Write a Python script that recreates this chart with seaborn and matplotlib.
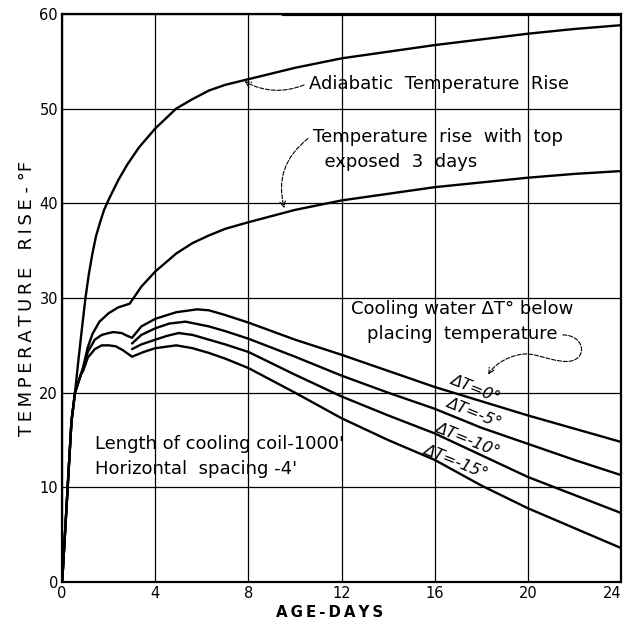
import numpy as np
import pandas as pd
import seaborn as sns
import matplotlib
matplotlib.use("Agg")
import matplotlib.pyplot as plt
from matplotlib.path import Path
from matplotlib.patches import FancyArrowPatch

# Curves (age in days, temperature rise in deg F)
days_adiabatic = [0, 0.2, 0.4, 0.55, 0.7, 0.85, 1.0, 1.15, 1.3, 1.45, 1.63, 1.8, 2.0, 2.4, 2.8, 3.3, 4.0, 4.9, 5.6, 6.3, 7, 8, 10, 12, 14, 16, 18, 20, 22, 24]
rise_adiabatic = [0, 8.5, 17, 20, 23.5, 26.8, 30, 32.6, 34.7, 36.5, 38.0, 39.3, 40.4, 42.4, 44.1, 45.9, 47.9, 50.0, 51.0, 51.9, 52.5, 53.1, 54.3, 55.3, 56.0, 56.7, 57.3, 57.9, 58.4, 58.8]

days_top = [0, 0.2, 0.4, 0.55, 0.8, 0.9, 1.1, 1.3, 1.6, 2.0, 2.4, 2.9, 3.4, 4.0, 4.9, 5.6, 6.3, 7, 8, 10, 12, 14, 16, 18, 20, 22, 24]
rise_top = [0, 8.5, 17, 20, 21.9, 22.7, 24.8, 26.2, 27.5, 28.4, 29.0, 29.4, 31.2, 32.8, 34.7, 35.8, 36.6, 37.3, 38.0, 39.3, 40.3, 41.0, 41.7, 42.2, 42.7, 43.1, 43.4]

days_dt0 = [0, 0.2, 0.4, 0.55, 0.8, 0.9, 1.1, 1.4, 1.7, 2.0, 2.2, 2.55, 2.8, 3.0, 3.4, 4.0, 4.9, 5.8, 6.3, 7, 8, 10, 12, 14, 16, 18, 20, 22, 24]
rise_dt0 = [0, 8.5, 17, 20, 21.9, 22.5, 24.3, 25.6, 26.1, 26.3, 26.4, 26.3, 26.0, 25.8, 27.0, 27.8, 28.5, 28.8, 28.7, 28.2, 27.4, 25.6, 24.0, 22.3, 20.6, 19.1, 17.6, 16.2, 14.8]

days_dt5 = [3.0, 3.4, 4.0, 4.6, 5.3, 6.3, 7, 8, 10, 12, 14, 16, 18, 20, 22, 24]
rise_dt5 = [25.2, 26.1, 26.8, 27.3, 27.5, 27.0, 26.5, 25.7, 23.8, 21.8, 20.0, 18.3, 16.3, 14.6, 12.9, 11.3]

days_dt10 = [3.0, 3.4, 4.0, 4.5, 5.0, 5.6, 6.3, 7, 8, 10, 12, 14, 16, 18, 20, 22, 24]
rise_dt10 = [24.6, 25.1, 25.6, 26.0, 26.3, 26.1, 25.6, 25.1, 24.3, 21.9, 19.6, 17.6, 15.7, 13.4, 11.1, 9.2, 7.3]

days_dt15 = [0, 0.2, 0.4, 0.55, 0.8, 0.9, 1.1, 1.4, 1.7, 2.0, 2.3, 2.6, 3.0, 3.5, 4.0, 4.9, 5.6, 6.3, 7, 8, 10, 12, 14, 16, 18, 20, 22, 24]
rise_dt15 = [0, 8.5, 17, 20, 21.9, 22.3, 23.7, 24.6, 25.0, 25.0, 24.9, 24.5, 23.8, 24.3, 24.7, 25.0, 24.7, 24.2, 23.6, 22.6, 20.0, 17.3, 15.0, 12.9, 10.2, 7.8, 5.7, 3.6]

x_ticks = [0, 4, 8, 12, 16, 20, 24]
y_ticks = [0, 10, 20, 30, 40, 50, 60]
dt_labels = ["ΔT=0°", "ΔT=-5°", "ΔT=-10°", "ΔT=-15°"]

curves = [
    ("adiabatic", days_adiabatic, rise_adiabatic),
    ("top", days_top, rise_top),
    ("dt0", days_dt0, rise_dt0),
    ("dt5", days_dt5, rise_dt5),
    ("dt10", days_dt10, rise_dt10),
    ("dt15", days_dt15, rise_dt15),
]
df = pd.concat([pd.DataFrame({"curve": name, "day": d, "rise": r}) for name, d, r in curves], ignore_index=True)

sns.set_style("white")
plt.rcParams["font.family"] = ["DejaVu Sans"]
plt.rcParams["text.color"] = "black"
plt.rcParams["axes.labelcolor"] = "black"
plt.rcParams["xtick.color"] = "black"
plt.rcParams["ytick.color"] = "black"

fig = plt.figure(figsize=(6.28, 6.28), dpi=100)
ax = fig.add_axes([0.099, 0.073, 0.890, 0.905])

for name, _, _ in curves:
    sns.lineplot(data=df[df["curve"] == name], x="day", y="rise", color="black", lw=1.7,
                 estimator=None, sort=False, ax=ax)

ax.set_xlim(0, 24)
ax.set_ylim(0, 60)
ax.set_xticks(x_ticks)
ax.set_yticks(y_ticks)
ax.set_xticklabels([str(t) for t in x_ticks], fontsize=10.5)
ax.set_yticklabels([str(t) for t in y_ticks], fontsize=10.5)
ax.get_xticklabels()[-1].set_horizontalalignment("right")
ax.tick_params(length=0, pad=3)
ax.grid(True, color="black", lw=0.9)
for s in ax.spines.values():
    s.set_visible(True)
    s.set_color("black")
    s.set_linewidth(1.6)
ax.axhline(60, xmin=0.395, xmax=1, color="black", lw=3)

ts = "\u2009"
ax.set_xlabel(ts.join("AGE-DAYS"), fontsize=10.8, fontweight="bold")
ax.xaxis.set_label_coords(0.479, -0.040)
ax.set_ylabel(ts.join("TEMPERATURE") + "   " + ts.join("RISE") + " - °F", fontsize=13)
ax.yaxis.set_label_coords(-0.046, 0.5)

fs = 13
# Labels and dashed leaders
ax.text(10.6, 52.6, "Adiabatic  Temperature  Rise", fontsize=fs, va="center", ha="left")
ax.annotate("", xy=(7.72, 53.0), xytext=(10.5, 52.6),
            arrowprops=dict(arrowstyle="->", ls="--", lw=0.8, color="black",
                            connectionstyle="arc3,rad=-0.25"))

ax.text(10.75, 45.65, "Temperature  rise  with  top\n  exposed  3  days", fontsize=fs,
        va="center", ha="left", linespacing=1.5)
ax.annotate("", xy=(9.57, 39.2), xytext=(10.65, 47.0),
            arrowprops=dict(arrowstyle="->", ls="--", lw=0.8, color="black",
                            connectionstyle="arc3,rad=0.35"))

ax.text(17.17, 27.55, "Cooling water ΔT° below\nplacing  temperature", fontsize=fs,
        va="center", ha="center", linespacing=1.5)
loop = Path([(21.5, 26.1), (22.5, 26.1), (22.6, 23.2), (21.6, 23.3),
             (20.8, 23.4), (20.2, 24.4), (19.6, 24.0),
             (19.0, 23.7), (18.5, 22.8), (18.3, 21.9)],
            [Path.MOVETO] + [Path.CURVE4] * 9)
ax.add_patch(FancyArrowPatch(path=loop, arrowstyle="->", ls="--", lw=0.8, color="black",
                             mutation_scale=10))

ax.text(1.4, 13.3, "Length of cooling coil-1000'\nHorizontal  spacing -4'", fontsize=fs,
        va="center", ha="left", linespacing=1.5)

dt_pos = [(17.72, 20.4), (17.68, 17.85), (17.38, 15.1), (16.9, 12.7)]
for lab, (xx, yy) in zip(dt_labels, dt_pos):
    ax.text(xx, yy, lab, fontsize=11.5, style="italic", rotation=-22,
            ha="center", va="center", rotation_mode="anchor")

fig.savefig("out.png", dpi=100, facecolor="white")
